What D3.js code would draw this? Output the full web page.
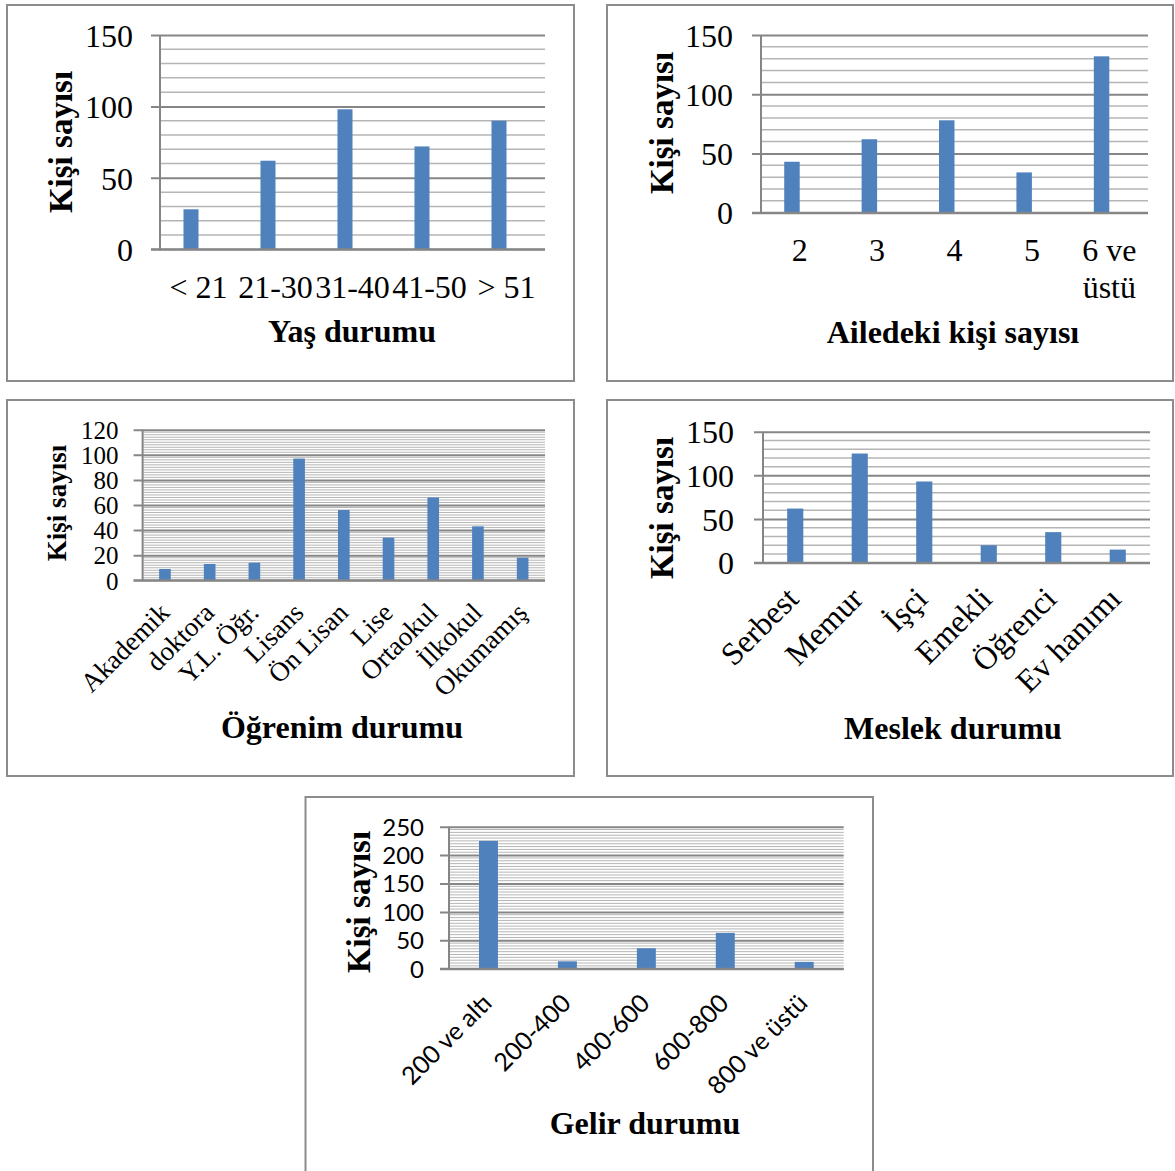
<!DOCTYPE html>
<html><head><meta charset="utf-8">
<script src="https://cdn.jsdelivr.net/npm/d3@7"></script>
<style>
html,body{margin:0;padding:0;background:#fff;}
svg{display:block;}
</style></head>
<body>
<svg id="chart" width="1175" height="1171"></svg>
<script>
// ---------- DATA ----------
const yasCategories = ["< 21", "21-30", "31-40", "41-50", "> 51"];
const yasValues = [28, 62, 98, 72, 90];

const aileCategories = ["2", "3", "4", "5", "6 ve|üstü"];
const aileValues = [43, 62, 78, 34, 132];

const ogrenimCategories = ["Akademik", "doktora", "Y.L. Öğr.", "Lisans", "Ön Lisan", "Lise", "Ortaokul", "İlkokul", "Okumamış"];
const ogrenimValues = [9, 13, 14, 97, 56, 34, 66, 43, 18];

const meslekCategories = ["Serbest", "Memur", "İşçi", "Emekli", "Öğrenci", "Ev hanımı"];
const meslekValues = [62, 125, 93, 20, 35, 15];

const gelirCategories = ["200 ve altı", "200-400", "400-600", "600-800", "800 ve üstü"];
const gelirValues = [225, 13, 36, 63, 12];

const yTitle = "Kişi sayısı";
const xTitles = ["Yaş durumu", "Ailedeki kişi sayısı", "Öğrenim durumu", "Meslek durumu", "Gelir durumu"];

// ---------- STYLE ----------
const SERIF = "'Liberation Serif','Times New Roman',serif";
const SANS = "Lato,'Open Sans','Liberation Sans',sans-serif";
const BAR = "#4f81bd";
const MAJOR = "#868686";
const MINOR = "#b5b5b5";
const FRAME = "#8c8c8c";

const svg = d3.select("#chart");

function panel(cfg) {
  const g = svg.append("g");
  g.append("rect").attr("x", cfg.frame[0]).attr("y", cfg.frame[1])
    .attr("width", cfg.frame[2] - cfg.frame[0]).attr("height", cfg.frame[3] - cfg.frame[1])
    .attr("fill", "none").attr("stroke", FRAME).attr("stroke-width", 2);

  const y = d3.scaleLinear().domain([0, cfg.yMax]).range([cfg.y0, cfg.yTop]);
  const x = d3.scaleBand().domain(cfg.cats).range([cfg.x0, cfg.x1])
    .paddingInner(cfg.pad).paddingOuter(cfg.pad / 2);

  const minors = d3.range(0, cfg.yMax + 1e-9, cfg.minor).filter(v => Math.abs(v / cfg.major - Math.round(v / cfg.major)) > 1e-6);
  g.append("g").selectAll("line").data(minors).join("line")
    .attr("x1", cfg.x0).attr("x2", cfg.x1)
    .attr("y1", d => y(d)).attr("y2", d => y(d))
    .attr("stroke", MINOR).attr("stroke-width", cfg.minorW);

  const majors = d3.range(0, cfg.yMax + 1e-9, cfg.major);
  const yAxis = d3.axisLeft(y).tickValues(majors).tickSize(-(cfg.x1 - cfg.x0)).tickSizeOuter(0).tickPadding(0).tickFormat(d3.format("d"));
  const ag = g.append("g").attr("transform", `translate(${cfg.x0},0)`).call(yAxis);
  ag.select(".domain").remove();
  ag.selectAll(".tick line").attr("stroke", MAJOR).attr("stroke-width", 2).attr("x1", -9);
  ag.selectAll(".tick text").attr("x", -cfg.labelGap).attr("dy", "0.35em")
    .attr("font-family", cfg.tickFont).attr("font-size", cfg.tickSize).attr("fill", "#000");

  g.append("line").attr("x1", cfg.x0).attr("x2", cfg.x0).attr("y1", cfg.yTop).attr("y2", cfg.y0 + 1)
    .attr("stroke", MAJOR).attr("stroke-width", 2);

  let bx = d => x(d), bw = x.bandwidth();
  if (cfg.twoSeries) {
    const x1 = d3.scaleBand().domain(["s1", "s2"]).range([0, x.bandwidth()]);
    bx = d => x(d) + x1("s1");
    bw = x1.bandwidth();
  }
  g.append("g").selectAll("rect").data(cfg.cats.map((c, i) => ({ c, v: cfg.vals[i] }))).join("rect")
    .attr("x", d => bx(d.c)).attr("width", bw)
    .attr("y", d => y(d.v)).attr("height", d => y(0) - y(d.v))
    .attr("fill", BAR);

  g.append("line").attr("x1", cfg.x0 - 9).attr("x2", cfg.x1).attr("y1", y(0)).attr("y2", y(0))
    .attr("stroke", MAJOR).attr("stroke-width", 2);

  const cx = d => x(d) + x.bandwidth() / 2;
  const xl = g.append("g");
  if (cfg.rotate) {
    xl.selectAll("text").data(cfg.cats).join("text")
      .attr("transform", d => `translate(${cx(d) + cfg.rotOff[0]},${cfg.y0 + cfg.rotOff[1]}) rotate(-45)`)
      .attr("text-anchor", "end")
      .attr("font-family", cfg.xFont).attr("font-size", cfg.xSize).attr("fill", "#000")
      .text(d => d);
  } else {
    xl.selectAll("text").data(cfg.cats).join("text")
      .attr("x", cx).attr("y", cfg.xLabelY)
      .attr("text-anchor", "middle")
      .attr("font-family", cfg.xFont).attr("font-size", cfg.xSize).attr("fill", "#000")
      .each(function (d) {
        const parts = d.split("|");
        const t = d3.select(this);
        parts.forEach((p, i) => {
          t.append("tspan").attr("x", cx(d)).attr("dy", i === 0 ? 0 : cfg.lineH).text(p);
        });
      });
  }

  g.append("text").attr("x", cfg.titlePos[0]).attr("y", cfg.titlePos[1])
    .attr("text-anchor", "middle").attr("font-family", SERIF).attr("font-weight", "bold")
    .attr("font-size", 32).attr("fill", "#000").text(cfg.title);
  g.append("text").attr("transform", `translate(${cfg.yTitlePos[0]},${cfg.yTitlePos[1]}) rotate(-90)`)
    .attr("text-anchor", "middle").attr("dy", "0.35em").attr("font-family", SERIF).attr("font-weight", "bold")
    .attr("font-size", cfg.yTitleSize).attr("fill", "#000").text(yTitle);
}

panel({
  frame: [7, 5, 574, 381], cats: yasCategories, vals: yasValues,
  x0: 160, x1: 545, y0: 249.3, yTop: 35, yMax: 150, major: 50, minor: 10, minorW: 1.5,
  pad: 0.61, twoSeries: true, tickFont: SERIF, tickSize: 32, labelGap: 27,
  xFont: SERIF, xSize: 32, xLabelY: 298, rotate: false,
  title: xTitles[0], titlePos: [352, 342], yTitlePos: [60, 142], yTitleSize: 33
});

panel({
  frame: [607, 5, 1173, 381], cats: aileCategories, vals: aileValues,
  x0: 761, x1: 1148, y0: 212.7, yTop: 35, yMax: 150, major: 50, minor: 10, minorW: 1.5,
  pad: 0.6, twoSeries: true, tickFont: SERIF, tickSize: 32, labelGap: 28,
  xFont: SERIF, xSize: 32, xLabelY: 261, lineH: 37, rotate: false,
  title: xTitles[1], titlePos: [953, 343], yTitlePos: [661, 123], yTitleSize: 33
});

panel({
  frame: [7, 400, 574, 776], cats: ogrenimCategories, vals: ogrenimValues,
  x0: 142.6, x1: 545, y0: 580.3, yTop: 429.7, yMax: 120, major: 20, minor: 2, minorW: 1,
  pad: 0.74, twoSeries: false, tickFont: SERIF, tickSize: 25, labelGap: 24,
  xFont: SERIF, xSize: 27, rotate: true, rotOff: [6, 34],
  title: xTitles[2], titlePos: [342, 738], yTitlePos: [57, 503], yTitleSize: 27
});

panel({
  frame: [607, 400, 1173, 776], cats: meslekCategories, vals: meslekValues,
  x0: 763, x1: 1150, y0: 562.7, yTop: 431.7, yMax: 150, major: 50, minor: 10, minorW: 1.5,
  pad: 0.75, twoSeries: false, tickFont: SERIF, tickSize: 32, labelGap: 29,
  xFont: SERIF, xSize: 32, rotate: true, rotOff: [5, 38],
  title: xTitles[3], titlePos: [953, 739], yTitlePos: [661, 508], yTitleSize: 33
});

panel({
  frame: [305.5, 797, 873, 1185], cats: gelirCategories, vals: gelirValues,
  x0: 449, x1: 843.7, y0: 968.7, yTop: 826.7, yMax: 250, major: 50, minor: 5, minorW: 1,
  pad: 0.76, twoSeries: false, tickFont: SANS, tickSize: 24, labelGap: 25,
  xFont: SANS, xSize: 25, rotate: true, rotOff: [5, 36],
  title: xTitles[4], titlePos: [645, 1134], yTitlePos: [358, 902], yTitleSize: 33
});
</script>
</body></html>
